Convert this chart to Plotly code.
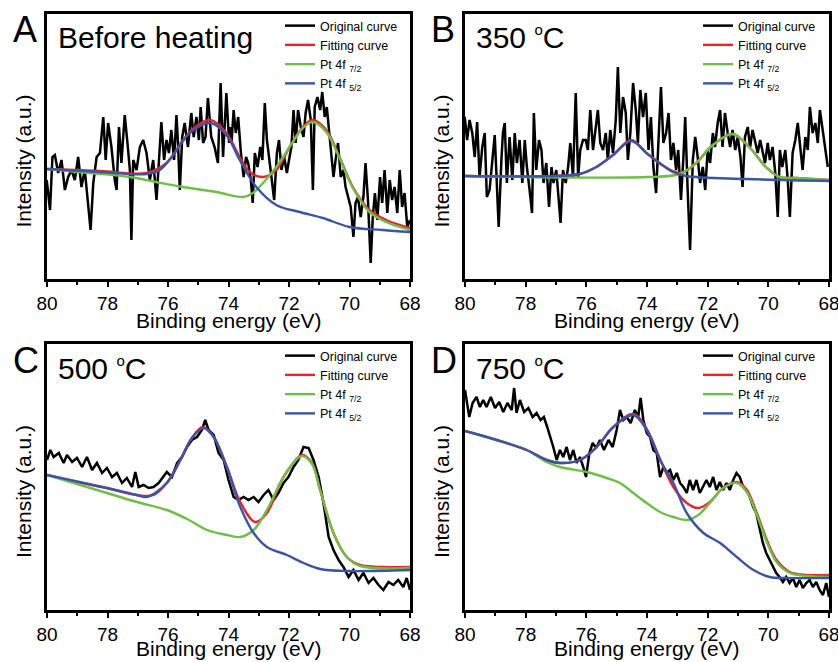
import plotly.graph_objects as go

# ---------------- data (binding energy in eV, intensity in arbitrary units) ----------------
# Panel A : Before heating
A_orig_E = [80.01,79.90,79.82,79.74,79.63,79.52,79.41,79.30,79.19,79.08,
            78.97,78.86,78.75,78.64,78.56,78.47,78.36,78.25,78.14,78.06,
            77.98,77.87,77.76,77.70,77.62,77.54,77.43,77.34,77.26,77.21,
            77.15,77.04,76.93,76.82,76.71,76.60,76.49,76.38,76.30,76.22,
            76.13,76.05,75.97,75.89,75.80,75.72,75.67,75.61,75.53,75.45,
            75.34,75.23,75.15,75.06,74.98,74.92,74.84,74.76,74.68,74.57,
            74.46,74.35,74.26,74.18,74.07,73.98,
            73.94,73.90,73.83,73.76,73.68,73.59,73.50,73.42,73.35,73.26,
            73.20,73.13,73.04,72.95,72.88,72.80,72.73,72.66,72.58,72.49,
            72.40,72.33,72.25,72.16,72.07,72.00,71.92,71.85,71.78,71.70,
            71.61,71.52,71.45,71.37,71.28,71.21,71.15,71.06,70.97,70.90,
            70.82,70.75,70.68,70.60,70.53,70.46,70.38,70.29,70.20,70.13,
            70.05,69.96,69.87,69.80,69.72,69.63,69.54,69.47,69.39,69.30,
            69.23,69.16,69.08,68.99,68.92,68.84,68.75,68.67,68.59,68.51,
            68.42,68.34,68.26,68.18,68.09,68.00]
A_orig_I = [99,69,122,124,106,119,89,102,109,99,
            122,92,109,72,49,96,122,126,162,119,
            156,132,99,89,152,116,164,136,109,39,
            119,109,132,139,126,99,119,79,116,157,
            119,139,126,149,119,164,136,89,142,156,
            132,166,142,162,139,172,136,142,181,142,
            132,116,196,122,186,136,
            152,136,169,146,162,126,102,122,116,99,
            76,126,112,132,119,176,139,119,102,79,
            126,139,109,122,106,119,132,169,136,169,
            152,142,166,179,159,89,172,182,169,187,
            162,172,149,126,102,119,136,102,109,92,
            82,72,42,76,82,62,82,116,79,16,
            62,86,59,102,76,109,66,99,79,92,
            66,109,72,86,52,59]
A_fit_E = [80.0,79.9,78.25,76.71,76.05,75.5,75.06,74.59,74.07,73.63,73.30,72.86,
           72.42,71.98,71.54,71.21,70.77,70.33,69.89,69.34,68.79,68.0]
A_fit_I = [110,110,108,106,116,139,153,159,146,122,107,102,
           109,132,152,159,149,122,92,69,59,51]
A_p72_E = [80.0,78.6,77.26,76.4,75.5,74.4,73.52,73.19,72.86,72.42,71.98,71.54,71.21,
           70.77,70.33,69.89,69.34,68.79,68.0]
A_p72_I = [110,106,102,97,92,87,82,86,96,112,132,151,157,
           147,121,91,67,57,49]
A_p52_E = [80.0,78.25,76.71,76.27,75.83,75.28,74.59,74.07,73.63,73.08,72.42,71.65,
           70.88,70.0,68.9,68.0]
A_p52_I = [110,107,105,109,124,146,156,144,119,92,74,67,
           61,52,49,47]

# Panel B : 350 oC
B_orig_E = [80.01,79.93,79.85,79.76,79.68,79.60,79.52,79.43,79.35,79.28,
            79.19,79.10,79.02,78.97,78.89,78.80,78.75,78.69,78.62,78.53,
            78.44,78.36,78.29,78.20,78.11,78.03,77.96,77.87,77.79,77.73,
            77.65,77.56,77.48,77.41,77.32,77.23,77.15,77.08,76.99,76.91,
            76.85,76.77,76.68,76.60,76.53,76.44,76.35,76.27,76.20,76.11,
            76.02,75.95,75.87,75.78,75.69,75.62,75.54,75.45,75.36,75.29,
            75.21,75.12,75.03,74.96,74.88,74.79,74.70,74.63,74.55,74.46,
            74.37,74.30,74.22,74.13,74.04,
            73.95,73.87,73.79,73.70,73.62,73.54,73.46,73.37,73.29,73.21,
            73.13,73.04,72.97,72.88,72.80,72.74,72.66,72.58,72.49,72.41,
            72.33,72.25,72.16,72.08,72.00,71.92,71.83,71.76,71.67,71.59,
            71.51,71.43,71.34,71.26,71.18,71.09,71.01,70.92,70.85,70.77,
            70.68,70.60,70.52,70.43,70.35,70.27,70.19,70.11,70.02,69.95,
            69.86,69.77,69.69,69.62,69.54,69.44,69.36,69.29,69.20,69.11,
            69.03,68.96,68.87,68.78,68.70,68.63,68.54,68.45,68.37,68.30,
            68.21,68.12,68.04]
B_orig_I = [162,139,159,146,122,157,102,132,146,82,
            89,119,144,109,52,119,146,156,96,142,
            99,146,116,139,96,139,112,89,66,166,
            109,139,129,96,116,72,112,96,109,79,
            56,109,96,112,136,102,186,102,129,139,
            139,129,169,129,152,169,136,129,146,119,
            149,126,159,212,146,182,166,119,146,196,
            169,136,189,162,186,
            129,162,112,86,146,192,136,146,166,119,
            136,109,129,79,122,162,89,29,119,142,
            122,96,112,89,129,116,146,132,156,169,
            132,166,146,132,149,129,142,122,92,142,
            152,132,149,136,126,139,129,116,136,119,
            132,106,62,129,112,129,99,62,126,139,
            156,132,109,142,129,172,146,156,136,169,
            149,129,112]
B_fit_E = [80.0,77.0,76.22,75.67,75.12,74.52,74.02,73.59,73.15,72.85,72.38,71.83,
           71.18,70.63,70.08,69.64,69.09,68.0]
B_fit_I = [103,103,105,112,124,139,126,116,108,106,116,134,
           145,132,112,102,101,99]
B_p72_E = [80.0,74.0,72.93,72.38,71.83,71.18,70.63,70.08,69.64,69.09,68.0]
B_p72_I = [103,102,105,116,134,145,132,112,102,101,99]
B_p52_E = [80.0,77.0,76.22,75.67,75.12,74.52,74.02,73.59,73.15,72.71,70.74,68.0]
B_p52_I = [103,103,105,112,124,138,126,116,107,103,100,98]

# Panel C : 500 oC
C_orig_E = [80.0,79.89,79.78,79.61,79.45,79.34,79.17,79.01,78.84,78.68,
            78.51,78.35,78.18,78.02,77.85,77.69,77.52,77.36,77.19,77.08,
            76.97,76.81,76.64,76.48,76.31,76.15,76.04,75.87,75.70,75.54,
            75.37,75.21,75.04,74.88,74.77,74.66,74.49,74.33,74.16,74.0,
            73.83,73.67,73.50,73.34,73.17,73.01,72.84,72.68,72.51,72.35,
            72.18,72.02,71.85,71.69,71.52,71.35,71.19,71.02,70.86,70.69,
            70.53,70.36,70.20,70.03,69.87,69.70,69.54,69.37,69.21,69.04,
            68.88,68.71,68.55,68.39,68.22,68.11,68.0]
C_orig_I = [150,160,153,157,147,155,148,152,143,153,
            140,147,137,142,133,137,127,132,123,138,
            123,125,122,123,127,133,138,133,147,153,
            163,170,173,180,190,180,175,157,150,130,
            113,110,113,110,113,108,115,120,110,117,
            127,133,143,150,163,162,150,133,107,73,
            60,50,43,33,40,30,37,27,32,25,
            20,28,25,30,23,32,20]
C_fit_E = [80.0,79.01,78.02,77.03,76.48,76.04,75.59,75.21,74.85,74.49,74.05,73.61,
           73.12,72.73,72.29,71.96,71.57,71.24,70.97,70.53,70.09,69.65,68.88,68.0]
C_fit_I = [135,128,122,115,115,127,150,172,183,173,143,108,
           88,97,127,143,155,147,120,77,53,45,43,43]
C_p72_E = [80.0,78.02,77.03,76.04,75.37,74.71,74.05,73.61,73.17,72.73,72.29,71.96,
           71.57,71.24,70.97,70.53,70.09,69.65,68.0]
C_p72_I = [135,117,108,100,91,80,75,73,80,100,127,143,
           154,146,120,77,53,44,42]
C_p52_E = [80.0,78.02,77.03,76.70,76.04,75.59,75.21,74.82,74.49,74.05,73.61,73.17,
           72.73,72.07,71.52,70.97,70.09,68.0]
C_p52_I = [135,122,115,113,127,150,172,182,173,142,103,77,
           63,55,47,41,39,40]

# Panel D : 750 oC
D_orig_E = [80.0,79.86,79.75,79.62,79.51,79.40,79.29,79.15,79.01,78.87,
            78.74,78.60,78.46,78.38,78.30,78.19,78.05,77.91,77.77,77.64,
            77.51,77.40,77.29,77.18,77.09,76.98,76.87,76.76,76.65,76.54,
            76.43,76.32,76.21,76.10,76.01,75.90,75.79,75.68,75.55,75.42,
            75.27,75.13,75.00,74.89,74.78,74.67,74.54,74.40,74.29,74.21,
            74.12,74.01,73.90,73.79,73.68,73.57,73.46,73.35,73.24,73.13,
            73.02,72.91,72.80,72.69,72.59,72.48,72.37,72.26,72.15,72.04,
            71.93,71.82,71.71,71.60,71.49,71.38,71.27,71.16,71.05,70.94,
            70.83,70.72,70.61,70.50,70.40,70.29,70.18,70.07,69.96,69.85,
            69.74,69.63,69.52,69.41,69.30,69.19,69.08,68.97,68.86,68.75,
            68.64,68.53,68.42,68.31,68.20,68.09,68.0]
D_orig_I = [220,193,207,213,203,210,203,213,202,208,
            198,207,200,222,197,210,198,202,193,197,
            190,193,183,173,163,150,160,153,163,150,
            160,147,153,143,133,157,167,162,170,160,
            170,163,180,200,190,193,187,200,193,212,
            190,177,173,160,157,133,143,137,140,130,
            137,127,123,117,130,120,130,117,123,130,
            123,133,120,128,120,127,120,130,137,133,
            123,120,113,103,97,83,67,57,50,43,
            37,33,28,33,27,32,23,30,22,27,
            30,23,28,20,15,27,13]
D_fit_E = [80.0,78.96,77.97,77.31,76.87,76.21,75.66,75.11,74.45,74.01,73.57,73.13,
           72.69,72.31,71.93,71.49,71.04,70.71,70.38,70.05,69.73,69.29,68.75,68.0]
D_fit_I = [179,170,160,150,147,150,163,183,196,181,151,123,
           107,102,108,122,128,120,97,70,50,38,35,35]
D_p72_E = [80.0,78.96,77.97,77.31,76.87,75.99,75.33,74.89,74.45,74.01,73.57,73.13,
           72.69,72.31,71.93,71.49,71.04,70.71,70.38,70.05,69.73,69.29,68.75,68.0]
D_p72_I = [179,170,160,148,143,138,132,127,117,107,98,93,
           90,95,107,122,127,118,95,68,48,37,34,33]
D_p52_E = [80.0,78.96,77.97,77.31,76.87,76.21,75.66,75.11,74.45,74.01,73.57,73.13,
           72.69,72.14,71.59,71.04,70.49,69.95,69.40,68.0]
D_p52_I = [179,170,160,150,147,150,163,183,195,180,150,127,
           97,77,67,53,40,33,32,32]

panel_letters = ["A", "B", "C", "D"]
DEG = "<sup><span style='font-size:15px'>o</span></sup>"
panel_titles = ["Before heating", "350 " + DEG + "C", "500 " + DEG + "C", "750 " + DEG + "C"]
series_names = ["Original curve", "Fitting curve", "Pt 4f <sub>7/2</sub>", "Pt 4f <sub>5/2</sub>"]
x_ticks = [80, 78, 76, 74, 72, 70, 68]
x_minor = [79, 77, 75, 73, 71, 69]
x_title = "Binding energy (eV)"
y_title = "Intensity (a.u.)"

panels = [
    [(A_orig_E, A_orig_I), (A_fit_E, A_fit_I), (A_p72_E, A_p72_I), (A_p52_E, A_p52_I)],
    [(B_orig_E, B_orig_I), (B_fit_E, B_fit_I), (B_p72_E, B_p72_I), (B_p52_E, B_p52_I)],
    [(C_orig_E, C_orig_I), (C_fit_E, C_fit_I), (C_p72_E, C_p72_I), (C_p52_E, C_p52_I)],
    [(D_orig_E, D_orig_I), (D_fit_E, D_fit_I), (D_p72_E, D_p72_I), (D_p52_E, D_p52_I)],
]

# ---------------- styling / layout ----------------
W, H = 838, 662
FONT = "Liberation Sans, Arial, Helvetica, sans-serif"
colors = ["#000000", "#e8232b", "#6dbf47", "#3a55a5"]
widths = [2.5, 2.4, 2.4, 2.4]
shapes_ = ["linear", "spline", "spline", "spline"]

def fx(px):
    return px / W

def fy(py):
    return 1 - py / H

# frame pixel boxes: (left, right, top, bottom)
frames = [(47, 410, 14, 279), (465, 829, 14, 279), (47, 410, 344, 610), (465, 829, 344, 610)]
yranges = [[0, 265], [0, 265], [0, 266], [0, 266]]

fig = go.Figure()
layout = dict(
    width=W, height=H, margin=dict(l=0, r=0, t=0, b=0, autoexpand=False),
    paper_bgcolor="white", plot_bgcolor="white",
    font=dict(family=FONT, color="black"),
    showlegend=True,
)
annotations = []

for i, (frame, data) in enumerate(zip(frames, panels)):
    n = "" if i == 0 else str(i + 1)
    L, R, T, B = frame
    legname = "legend" if i == 0 else f"legend{i+1}"
    for k, (ex, iy) in enumerate(data):
        fig.add_trace(go.Scatter(
            x=ex, y=iy, mode="lines", name=series_names[k],
            line=dict(color=colors[k], width=widths[k], shape=shapes_[k]),
            xaxis="x" + n, yaxis="y" + n, legend=legname, showlegend=True,
        ))
    layout["xaxis" + n] = dict(
        domain=[fx(L), fx(R)], range=[80, 68], anchor="y" + n, automargin=False,
        tickmode="array", tickvals=x_ticks, ticks="outside", ticklen=5, tickwidth=1.8,
        tickcolor="black",
        minor=dict(tickmode="array", tickvals=x_minor, ticks="outside", ticklen=3,
                   tickwidth=1.8, tickcolor="black"),
        showline=True, linewidth=2.5, linecolor="black", mirror=True,
        showgrid=False, zeroline=False,
        tickfont=dict(size=19, family=FONT, color="black"),
        ticklabelstandoff=0, ticklabeloverflow="allow",
    )
    layout["yaxis" + n] = dict(
        domain=[fy(B), fy(T)], range=yranges[i], anchor="x" + n, automargin=False,
        showline=True, linewidth=2.5, linecolor="black", mirror=True,
        showticklabels=False, ticks="", showgrid=False, zeroline=False,
    )
    layout[legname] = dict(
        x=fx(L + 233), y=fy(T - 3), xanchor="left", yanchor="top",
        bgcolor="rgba(0,0,0,0)", borderwidth=0,
        font=dict(size=12.5, family=FONT, color="black"),
        itemwidth=30, tracegroupgap=0, traceorder="normal",
    )
    # panel letter
    annotations.append(dict(
        text=panel_letters[i], x=fx(L - 36), y=fy(T + 16), xref="paper", yref="paper",
        xanchor="left", yanchor="middle", showarrow=False,
        font=dict(size=36, family=FONT, color="black"),
    ))
    # panel title
    annotations.append(dict(
        text=panel_titles[i], x=fx(L + 9), y=fy(T + 24), xref="paper", yref="paper",
        xanchor="left", yanchor="middle", showarrow=False,
        font=dict(size=30, family=FONT, color="black"),
    ))
    # y title
    annotations.append(dict(
        text=y_title, x=fx(L - 24), y=fy((T + B) / 2 + 15), xref="paper", yref="paper",
        xanchor="center", yanchor="middle", showarrow=False, textangle=-90,
        font=dict(size=21, family=FONT, color="black"),
    ))
    # x title
    annotations.append(dict(
        text=x_title, x=fx((L + R) / 2), y=fy(B + 41 if i < 2 else B + 38),
        xref="paper", yref="paper",
        xanchor="center", yanchor="middle", showarrow=False,
        font=dict(size=21, family=FONT, color="black"),
    ))

layout["annotations"] = annotations
fig.update_layout(**layout)
fig.write_html(
    "out.html",
    post_script="document.body.style.margin='0';document.body.style.padding='0';",
)
